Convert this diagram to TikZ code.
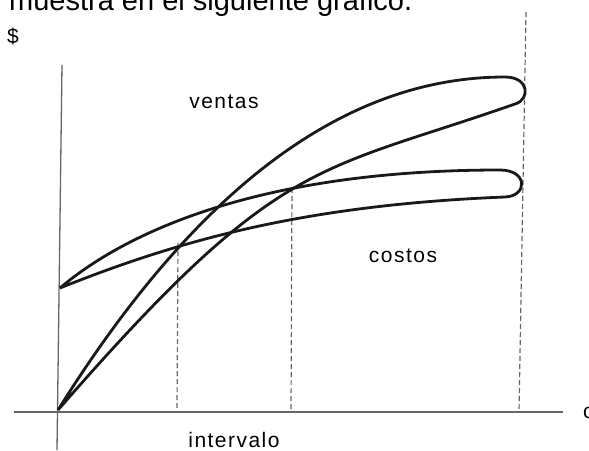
\documentclass[tikz,border=0pt]{standalone}
\usepackage{fontspec}
\setmainfont{Liberation Sans}
\newfontfamily\labfont[LetterSpace=7]{Liberation Sans}
\begin{document}
\begin{tikzpicture}[x=1pt,y=-1pt,
  axisline/.style={line width=1.3pt,draw=black!60},
  guide/.style={line width=1.2pt,draw=black!60,dash pattern=on 5pt off 3pt},
  curve/.style={line width=2.8pt,draw=black!90,line join=round},
  lab/.style={inner sep=0pt,anchor=base,font=\labfont\fontsize{21}{21}\selectfont}]
\useasboundingbox (0,0) rectangle (589,450);
% axes
\coordinate (ytop) at (62,65);
\coordinate (ybot) at (57,450);
\coordinate (xl) at (14,412);
\coordinate (xr) at (563,412);
\draw[axisline] (ytop) -- (ybot);
\draw[axisline] (xl) -- (xr);
% dashed guides
\coordinate (g1t) at (178,243); \coordinate (g1b) at (177,412);
\coordinate (g2t) at (292,188); \coordinate (g2b) at (291,412);
\coordinate (g3t) at (526,12);  \coordinate (g3b) at (519,412);
\draw[guide] (g1t) -- (g1b);
\draw[guide] (g2t) -- (g2b);
\draw[guide] (g3t) -- (g3b);
% sales loop
\coordinate (O) at (58,410);
\coordinate (sPeak) at (505,77);
\coordinate (sTip) at (515,104);
\draw[curve] (O) .. controls (188,202) and (335,77) .. (sPeak)
  .. controls (530,77) and (530,100) .. (sTip)
  .. controls (315,174) and (280,155) .. (O);
% costs loop
\coordinate (C) at (60,288);
\coordinate (cPeak) at (500,170);
\coordinate (cTip) at (505,197);
\draw[curve] (C) .. controls (120,237) and (250,170) .. (cPeak)
  .. controls (528,170) and (528,196) .. (cTip)
  .. controls (305,205) and (180,240) .. (C);
% labels
\node[lab] (ventas) at (224,108) {ventas};
\node[lab] (costos) at (403,262) {costos};
\node[lab] (intervalo) at (234,447) {intervalo};
\node[lab] (dollar) at (13,43) {\$};
\node[lab,anchor=base west] (cq) at (583,418) {c};
\node[inner sep=0pt,anchor=base west,font=\fontsize{29}{29}\selectfont] (top) at (9,10) {muestra en el siguiente gráfico.};
\end{tikzpicture}
\end{document}
